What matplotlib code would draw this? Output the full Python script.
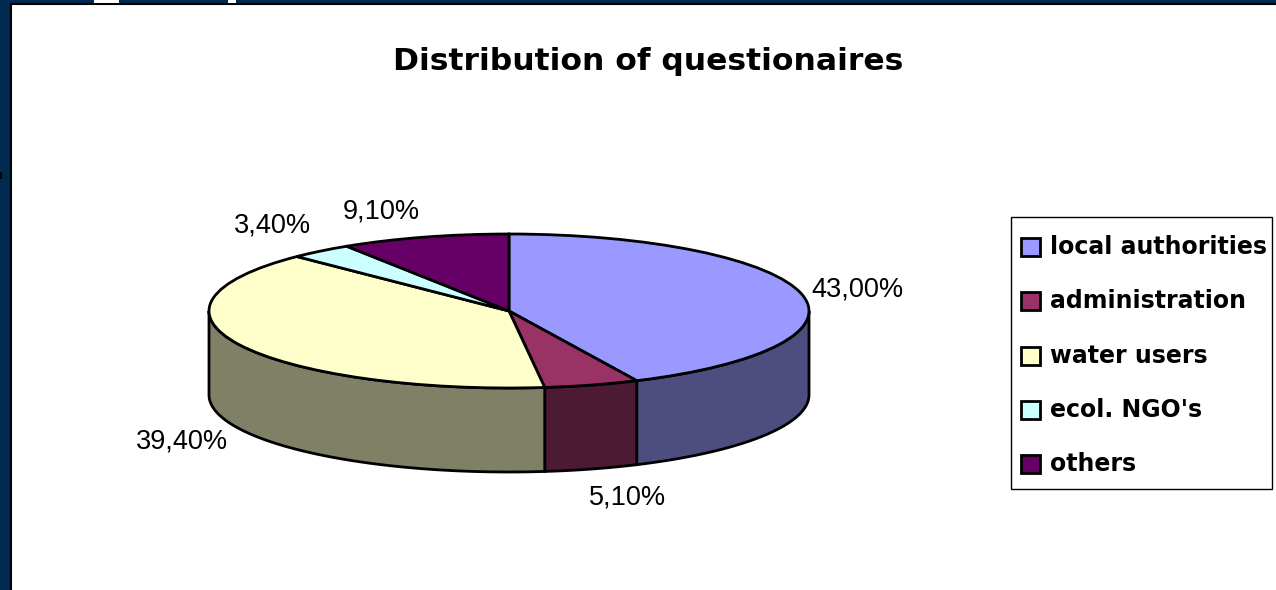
import numpy as np
import matplotlib
matplotlib.use("Agg")
import matplotlib.pyplot as plt
from matplotlib.patches import Rectangle

# Data
labels = ["local authorities", "administration", "water users", "ecol. NGO's", "others"]
values = [43.0, 5.1, 39.4, 3.4, 9.1]
value_texts = ["43,00%", "5,10%", "39,40%", "3,40%", "9,10%"]
colors = ["#9999FF", "#993366", "#FFFFCC", "#CCFFFF", "#660066"]
side_colors = ["#4D4D80", "#4D1A33", "#808066", "#668080", "#330033"]

W, H = 1276, 590
CX, CY, RX, RY, DEPTH = 509, 311, 300, 77, 84
label_pos = [(857, 290), (628, 497), (182, 442), (272, 226), (381, 212)]

fig = plt.figure(figsize=(W / 100, H / 100), dpi=100, facecolor="#012A50")

# white slide panel, runs off the right and bottom edges
bg = fig.add_axes([0, 0, 1, 1])
bg.set_xlim(0, W)
bg.set_ylim(H, 0)
bg.axis("off")
bg.add_patch(Rectangle((11, 4), W, H, facecolor="white", edgecolor="black", linewidth=1.5))
# bits of the slide heading that stick out above the panel
bg.add_patch(Rectangle((94, 0), 25, 3, facecolor="white", edgecolor="none"))
bg.add_patch(Rectangle((228, 0), 8, 3, facecolor="white", edgecolor="none"))
bg.add_patch(Rectangle((0, 172), 2, 7, facecolor="black", edgecolor="none"))

bg.text(648, 61, "Distribution of questionaires", fontsize=22.6, fontweight="bold",
        family=["DejaVu Sans"], ha="center", va="center")

# pie axes: one data unit = RX pixels across, RY pixels down
ax = fig.add_axes([0, 0, 1, 1], facecolor="none")
ax.pie(values, colors=colors, startangle=90, counterclock=False, radius=1,
       wedgeprops={"edgecolor": "black", "linewidth": 2, "zorder": 3})
ax.set_aspect("auto")
ax.set_xlim(-CX / RX, (W - CX) / RX)
ax.set_ylim(-(H - CY) / RY, CY / RY)
ax.axis("off")

# side wall of the visible front half
d = DEPTH / RY
bounds = np.cumsum([0] + values) / sum(values) * 2 * np.pi
for i in range(len(values)):
    lo, hi = max(bounds[i], np.pi / 2), min(bounds[i + 1], 3 * np.pi / 2)
    if hi <= lo:
        continue
    t = np.linspace(lo, hi, 60)
    x, y = np.sin(t), np.cos(t)
    ax.fill(np.r_[x, x[::-1]], np.r_[y, y[::-1] - d], facecolor=side_colors[i],
            edgecolor="black", linewidth=2, zorder=2)

for text, (px, py) in zip(value_texts, label_pos):
    bg.text(px, py, text, fontsize=19.5, family=["Liberation Sans"], ha="center", va="center", zorder=5)

# legend box
lg_y = [247, 301, 356, 410, 464]
bg.add_patch(Rectangle((1011, 217), 261, 272, facecolor="white", edgecolor="black", linewidth=1, zorder=6))
for name, col, y in zip(labels, colors, lg_y):
    bg.add_patch(Rectangle((1021, y - 9), 19, 18, facecolor=col, edgecolor="black", linewidth=2, zorder=7))
    bg.text(1050, y, name, fontsize=17, fontweight="bold", family=["DejaVu Sans"], va="center", zorder=7)

fig.savefig("out.png", dpi=100, facecolor=fig.get_facecolor())
